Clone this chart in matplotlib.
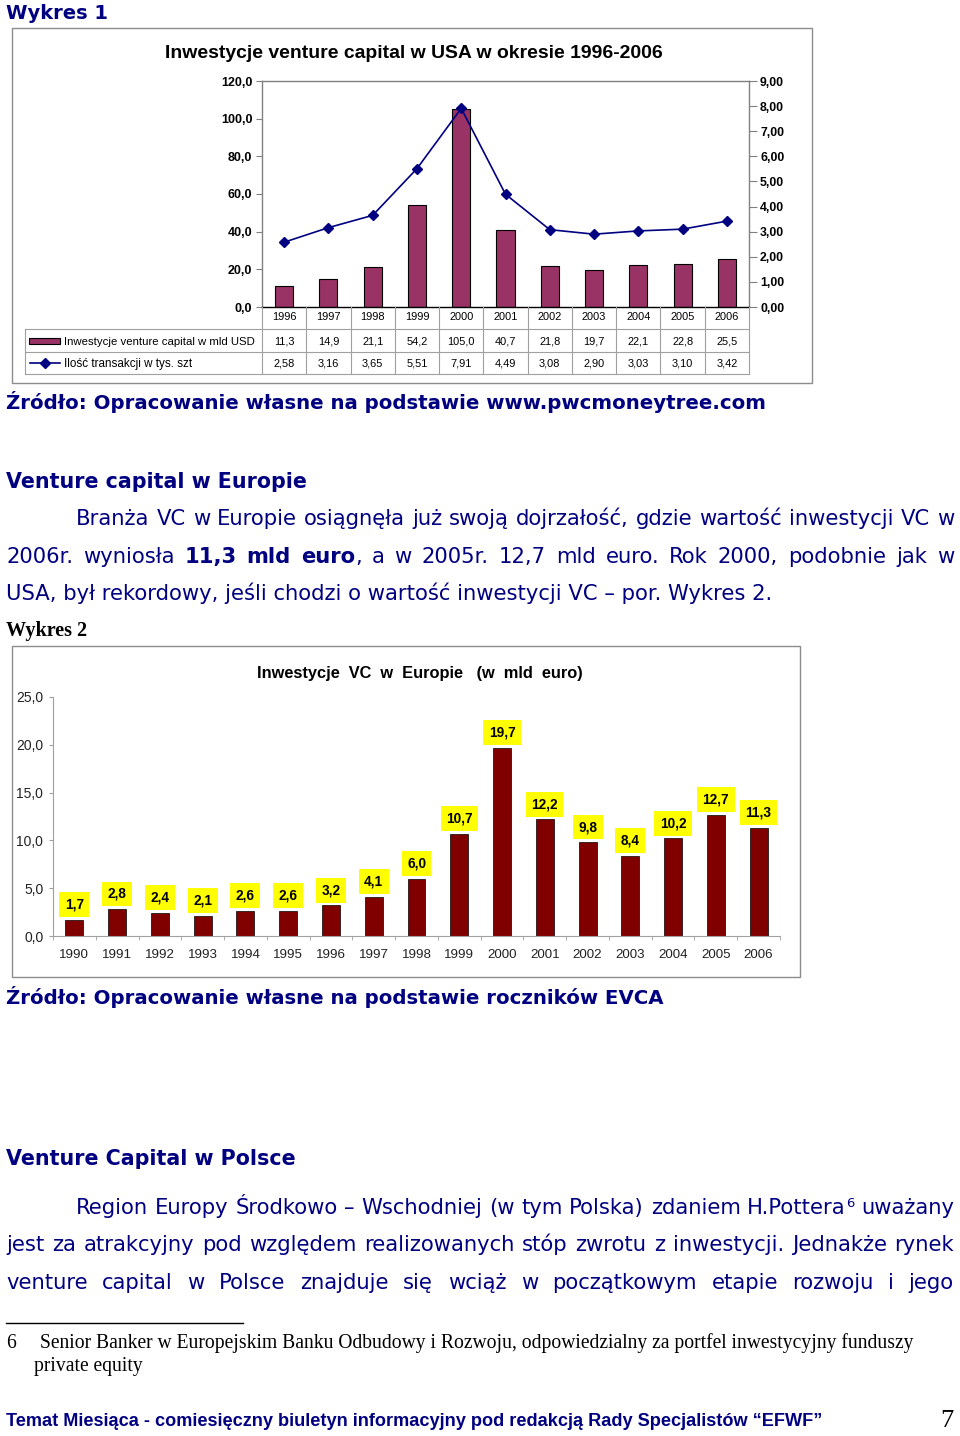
import matplotlib
matplotlib.use("Agg")
import matplotlib.pyplot as plt
import matplotlib.transforms as mtransforms
from matplotlib.patches import Rectangle
from matplotlib.lines import Line2D

# ---------------- data ----------------
usa_years = ["1996", "1997", "1998", "1999", "2000", "2001", "2002", "2003", "2004", "2005", "2006"]
usa_invest = [11.3, 14.9, 21.1, 54.2, 105.0, 40.7, 21.8, 19.7, 22.1, 22.8, 25.5]
usa_deals = [2.58, 3.16, 3.65, 5.51, 7.91, 4.49, 3.08, 2.90, 3.03, 3.10, 3.42]
usa_left_ticks = [0, 20, 40, 60, 80, 100, 120]
usa_right_ticks = [0, 1, 2, 3, 4, 5, 6, 7, 8, 9]

eu_years = ["1990", "1991", "1992", "1993", "1994", "1995", "1996", "1997", "1998",
            "1999", "2000", "2001", "2002", "2003", "2004", "2005", "2006"]
eu_invest = [1.7, 2.8, 2.4, 2.1, 2.6, 2.6, 3.2, 4.1, 6.0, 10.7, 19.7, 12.2, 9.8, 8.4, 10.2, 12.7, 11.3]
eu_ticks = [0, 5, 10, 15, 20, 25]

# ---------------- page ----------------
W, H = 960, 1436
fig = plt.figure(figsize=(W / 100, H / 100), dpi=100)
fig.patch.set_facecolor("white")
page = fig.add_axes([0, 0, 1, 1])
page.set_xlim(0, W)
page.set_ylim(H, 0)
page.axis("off")
page.set_zorder(5)
page.patch.set_alpha(0)

NAVY = "#000080"
SANS_V = ["DejaVu Sans"]          # Verdana-like
ARIAL = ["Liberation Sans", "DejaVu Sans"]
SERIF = ["Liberation Serif", "DejaVu Serif"]
NARROW = ["Liberation Sans Narrow", "Liberation Sans", "DejaVu Sans"]


def fr(x0, y0, x1, y1):
    return [x0 / W, 1 - y1 / H, (x1 - x0) / W, (y1 - y0) / H]


renderer = fig.canvas.get_renderer()


def width_of(t):
    bb = t.get_window_extent(renderer)
    return bb.width


def fit_text(s, x0, x1, y, family, weight="normal", color="black", base=12, ha="left", va="baseline"):
    t = page.text(x0, y, s, fontsize=base, family=family, weight=weight, color=color, va=va, ha="left")
    w = width_of(t)
    size = base * (x1 - x0) / w
    t.set_fontsize(size)
    if ha == "center":
        t.set_x((x0 + x1) / 2)
        t.set_ha("center")
    return size


def measure(s, size, family, weight):
    t = page.text(0, 0, s, fontsize=size, family=family, weight=weight)
    w = width_of(t)
    t.remove()
    return w


def place_line(tokens, x0, x1, y, size, family, color, justify=True):
    """tokens: list of words; each word is list of segments (text, weight, scale, dy)."""
    widths = []
    for word in tokens:
        ww = 0
        for (s, wt, sc, dy) in word:
            ww += measure(s, size * sc, family, wt)
        widths.append(ww)
    space = measure("a a", size, family, "normal") - measure("aa", size, family, "normal")
    if justify and len(tokens) > 1:
        gap = (x1 - x0 - sum(widths)) / (len(tokens) - 1)
    else:
        gap = space
    x = x0
    for word, ww in zip(tokens, widths):
        xx = x
        for (s, wt, sc, dy) in word:
            page.text(xx, y - dy, s, fontsize=size * sc, family=family, weight=wt,
                      color=color, va="baseline", ha="left")
            xx += measure(s, size * sc, family, wt)
        x += ww + gap


def simple_tokens(s, weight="normal"):
    return [[(w, weight, 1.0, 0)] for w in s.split(" ")]


# ---------------- headings & body text ----------------
fit_text("Wykres 1", 6, 108, 19, SANS_V, "bold", NAVY, base=14)
fit_text("Źródło: Opracowanie własne na podstawie www.pwcmoneytree.com", 6, 763, 409, SANS_V, "bold", NAVY)
fit_text("Venture capital w Europie", 6, 306, 488, SANS_V, "bold", NAVY)

body = fit_text("USA, był rekordowy, jeśli chodzi o wartość inwestycji VC – por. Wykres 2.",
                6, 774, 600, SANS_V, "normal", NAVY)
place_line(simple_tokens("Branża VC w Europie osiągnęła już swoją dojrzałość, gdzie wartość inwestycji VC w"),
           76, 954, 525, body, SANS_V, NAVY)
line2 = (simple_tokens("2006r. wyniosła")
         + [[("11,3", "bold", 1.0, 0)], [("mld", "bold", 1.0, 0)], [("euro", "bold", 1.0, 0), (",", "normal", 1.0, 0)]]
         + simple_tokens("a w 2005r. 12,7 mld euro. Rok 2000, podobnie jak w"))
place_line(line2, 6, 954, 563, body, SANS_V, NAVY)

fit_text("Wykres 2", 6, 87, 636, SERIF, "bold", "black")

fit_text("Źródło: Opracowanie własne na podstawie roczników EVCA", 6, 660, 1004, SANS_V, "bold", NAVY)
fit_text("Venture Capital w Polsce", 6, 295, 1165, SANS_V, "bold", NAVY)

l1 = (simple_tokens("Region Europy Środkowo – Wschodniej (w tym Polska) zdaniem")
      + [[("H.Pottera", "normal", 1.0, 0), ("6", "normal", 0.62, 7)]]
      + simple_tokens("uważany"))
place_line(l1, 76, 954, 1214, body, SANS_V, NAVY)
place_line(simple_tokens("jest za atrakcyjny pod względem realizowanych stóp zwrotu z inwestycji. Jednakże rynek"),
           6, 954, 1251, body, SANS_V, NAVY)
place_line(simple_tokens("venture capital w Polsce znajduje się wciąż w początkowym etapie rozwoju i jego"),
           6, 954, 1289, body, SANS_V, NAVY)

# footnote
page.add_line(Line2D([6, 243], [1323, 1323], color="black", lw=1))
fn = fit_text("Senior Banker w Europejskim Banku Odbudowy i Rozwoju, odpowiedzialny za portfel inwestycyjny funduszy",
              40, 912, 1348, SERIF, "normal", "black")
page.text(6, 1348, "6", fontsize=fn, family=SERIF, color="black", va="baseline")
page.text(34, 1371, "private equity", fontsize=fn, family=SERIF, color="black", va="baseline")

# footer
fit_text("Temat Miesiąca - comiesięczny biuletyn informacyjny pod redakcją Rady Specjalistów “EFWF”",
         6, 817, 1426, NARROW, "bold", NAVY)
page.text(954, 1427, "7", fontsize=19, family=SERIF, color="black", va="baseline", ha="right")

# ---------------- chart 1 frame ----------------
page.add_patch(Rectangle((12, 28), 800, 355, fill=False, edgecolor="#8c8c8c", lw=1))
fit_text("Inwestycje venture capital w USA w okresie 1996-2006", 165, 660, 58, ARIAL, "bold", "black",
         ha="left")

ax1 = fig.add_axes(fr(262, 81, 749, 307))
x1 = list(range(len(usa_years)))
ax1.bar(x1, usa_invest, width=0.41, color="#993366", edgecolor="black", lw=0.8, zorder=2)
ax1.set_xlim(-0.5, len(usa_years) - 0.5)
ax1.set_ylim(0, 120)
ax1.set_yticks(usa_left_ticks)
ax1.set_yticklabels([f"{v:.1f}".replace(".", ",") for v in usa_left_ticks],
                    fontsize=9, fontweight="bold", family=ARIAL)
ax1.set_xticks([])
ax1.tick_params(axis="y", direction="out", length=4, color="#808080", pad=3)
for sp in ax1.spines.values():
    sp.set_color("#808080")
    sp.set_linewidth(1)
ax1.spines["bottom"].set_color("black")

ax1r = ax1.twinx()
ax1r.plot(x1, usa_deals, color="#000080", marker="D", ms=5, lw=1.2, zorder=3)
ax1r.set_ylim(0, 9)
ax1r.set_yticks(usa_right_ticks)
ax1r.set_yticklabels([f"{v:.2f}".replace(".", ",") for v in usa_right_ticks],
                     fontsize=8.8, fontweight="bold", family=ARIAL)
ax1r.tick_params(axis="y", direction="out", length=6, color="#808080", pad=2)
for sp in ax1r.spines.values():
    sp.set_visible(False)

# data table under chart 1
tb = mtransforms.blended_transform_factory(ax1.transData, page.transData)
GRID = "#a0a0a0"
for i in range(len(usa_years) + 1):
    page.add_line(Line2D([i - 0.5, i - 0.5], [307, 374], color=GRID, lw=0.8, transform=tb))
for yy in (329, 352, 374):
    page.add_line(Line2D([25, 749], [yy, yy], color=GRID, lw=0.8))
page.add_line(Line2D([25, 25], [329, 374], color=GRID, lw=0.8))
for i, (yr, v, d) in enumerate(zip(usa_years, usa_invest, usa_deals)):
    page.text(i, 317, yr, transform=tb, ha="center", va="center", fontsize=7.9, family=ARIAL)
    page.text(i, 341, f"{v:.1f}".replace(".", ","), transform=tb, ha="center", va="center",
              fontsize=7.9, family=ARIAL)
    page.text(i, 363, f"{d:.2f}".replace(".", ","), transform=tb, ha="center", va="center",
              fontsize=7.9, family=ARIAL)
page.add_patch(Rectangle((29, 338), 31, 6, facecolor="#993366", edgecolor="black", lw=0.8))
page.add_line(Line2D([30, 60], [363, 363], color="#000080", lw=1.2))
page.add_line(Line2D([45], [363], color="#000080", marker="D", ms=5))
fit_text("Inwestycje venture capital w mld USD", 64, 256, 345, ARIAL, "normal", "black", base=8)
fit_text("Ilość transakcji w tys. szt", 64, 192, 367, ARIAL, "normal", "black", base=8)

# ---------------- chart 2 ----------------
page.add_patch(Rectangle((12, 646), 788, 331, fill=False, edgecolor="#8c8c8c", lw=1))
fit_text("Inwestycje  VC  w  Europie   (w  mld  euro)", 257, 583, 678, ARIAL, "bold", "black")

ax2 = fig.add_axes(fr(53, 697, 780, 936))
x2 = list(range(len(eu_years)))
ax2.bar(x2, eu_invest, width=0.42, color="#800000", edgecolor="black", lw=0.5, zorder=2)
ax2.set_xlim(-0.5, len(eu_years) - 0.5)
ax2.set_ylim(0, 25)
ax2.set_yticks(eu_ticks)
ax2.set_yticklabels([f"{v:.1f}".replace(".", ",") for v in eu_ticks], fontsize=10, family=ARIAL,
                    color="#222222")
ax2.set_xticks(x2)
ax2.set_xticklabels(eu_years, fontsize=9.6, family=ARIAL, color="#222222")
ax2.set_xticks([i - 0.5 for i in range(len(eu_years) + 1)], minor=True)
ax2.tick_params(axis="x", which="major", length=0, pad=9)
ax2.tick_params(axis="x", which="minor", length=3, direction="out", color="#a0a0a0")
ax2.tick_params(axis="y", length=3, direction="out", color="#a0a0a0", pad=4)
ax2.spines["top"].set_visible(False)
ax2.spines["right"].set_visible(False)
ax2.spines["left"].set_color("#a0a0a0")
ax2.spines["bottom"].set_color("#a0a0a0")
for xi, v in zip(x2, eu_invest):
    ax2.annotate(f"{v:.1f}".replace(".", ","), (xi, v), xytext=(0, 11), textcoords="offset points",
                 ha="center", va="center", fontsize=9.8, fontweight="bold", family=ARIAL,
                 bbox=dict(boxstyle="square,pad=0.4", facecolor="#ffff00", edgecolor="none"))

fig.savefig("out.png", dpi=100, facecolor="white")
